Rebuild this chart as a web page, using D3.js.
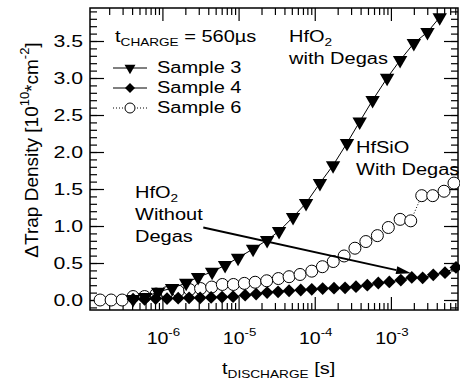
<!DOCTYPE html>
<html>
<head>
<meta charset="utf-8">
<script src="https://cdn.jsdelivr.net/npm/d3@7"></script>
<style>
  html, body { margin: 0; padding: 0; background: #fff; }
  svg { display: block; font-family: "Liberation Sans", Arial, Helvetica, sans-serif; }
</style>
</head>
<body>
<div id="chart"></div>
<script>
// values (t in seconds, density in 1e10 cm^-2)
const sample3Time = [4.12e-7, 5.93e-7, 8.79e-7, 1.34e-6, 2.05e-6, 2.94e-6, 4.49e-6, 6.65e-6,
  9.84e-6, 1.55e-5, 2.37e-5, 3.40e-5, 5.19e-5, 7.69e-5, 1.17e-4, 1.74e-4, 2.65e-4, 3.89e-4,
  5.75e-4, 8.91e-4, 1.32e-3, 2.00e-3, 3.02e-3, 4.37e-3];
const sample3Density = [0.01, 0.04, 0.11, 0.16, 0.23, 0.31, 0.38, 0.47, 0.57, 0.69, 0.81, 0.93,
  1.12, 1.31, 1.58, 1.82, 2.12, 2.41, 2.70, 3.00, 3.24, 3.47, 3.62, 3.82];

const sample4Time = [4.12e-7, 5.83e-7, 8.15e-7, 1.15e-6, 1.61e-6, 2.24e-6, 3.13e-6, 4.36e-6,
  6.07e-6, 8.47e-6, 1.22e-5, 1.70e-5, 2.37e-5, 3.30e-5, 4.60e-5, 6.55e-5, 9.14e-5, 1.27e-4,
  1.79e-4, 2.50e-4, 3.48e-4, 4.90e-4, 6.83e-4, 9.53e-4, 1.35e-3, 1.88e-3, 2.61e-3, 3.60e-3,
  5.13e-3, 7.15e-3];
const sample4Density = [0.01, 0.01, 0.02, 0.02, 0.025, 0.03, 0.03, 0.035, 0.04, 0.045, 0.065,
  0.08, 0.10, 0.11, 0.125, 0.135, 0.145, 0.155, 0.16, 0.165, 0.18, 0.20, 0.23, 0.245, 0.27,
  0.305, 0.30, 0.34, 0.37, 0.44];

const sample6Time = [1.52e-7, 2.12e-7, 2.96e-7, 4.12e-7, 5.83e-7, 8.26e-7, 1.15e-6, 1.61e-6,
  2.28e-6, 3.17e-6, 4.43e-6, 6.12e-6, 8.55e-6, 1.19e-5, 1.65e-5, 2.34e-5, 3.33e-5, 4.60e-5,
  6.41e-5, 9.14e-5, 1.26e-4, 1.75e-4, 2.43e-4, 3.37e-4, 4.69e-4, 6.64e-4, 9.25e-4, 1.32e-3,
  1.82e-3, 2.54e-3, 3.54e-3, 4.98e-3, 6.73e-3];
const sample6Density = [0, 0, 0, 0.047, 0.047, 0.08, 0.10, 0.12, 0.14, 0.155, 0.175, 0.21, 0.21,
  0.225, 0.24, 0.26, 0.29, 0.315, 0.345, 0.39, 0.45, 0.52, 0.595, 0.70, 0.79, 0.87, 0.98, 1.09,
  1.07, 1.41, 1.41, 1.47, 1.58];

const xDomain = [1.12e-7, 7.6e-3];
const yDomain = [-0.135, 3.946];
const xMajorTicks = [1e-6, 1e-5, 1e-4, 1e-3];
const xTickExponents = ["-6", "-5", "-4", "-3"];
const yMajorTicks = [0, 0.5, 1, 1.5, 2, 2.5, 3, 3.5];
const legendLabels = ["Sample 3", "Sample 4", "Sample 6"];

// arrow "HfO2 without degas" -> Sample 4 curve, in data coords
const arrowFrom = [3.44e-6, 0.98];
const arrowTo = [1.84e-3, 0.36];

const W = 460, H = 380;
const FONT = 16;
const SX = 1.25; // the reference text is stretched horizontally

const x = d3.scaleLog().domain(xDomain).range([90, 458]);
const y = d3.scaleLinear().domain(yDomain).range([310, 8]);

const svg = d3.select("#chart").append("svg")
  .attr("width", W).attr("height", H)
  .attr("viewBox", [0, 0, W, H]);

// text with sub/superscripts, stretched in x
function richText(parent, px, py, parts, anchor, opts) {
  const o = Object.assign({ size: FONT, rotate: false, stretch: SX }, opts);
  const tr = o.rotate
    ? `translate(${px},${py}) rotate(-90) scale(1,${o.stretch})`
    : `translate(${px},${py}) scale(${o.stretch},1)`;
  const t = parent.append("g").attr("transform", tr)
    .append("text")
    .attr("text-anchor", anchor || "start")
    .attr("font-size", o.size)
    .attr("fill", "#000");
  let off = 0;
  parts.forEach(([s, kind]) => {
    let target = 0, fs = o.size;
    if (kind === "sub") { target = o.size * 0.25; fs = o.size * 0.68; }
    if (kind === "sup") { target = -o.size * 0.45; fs = o.size * 0.68; }
    t.append("tspan").attr("font-size", fs).attr("dy", target - off).text(s);
    off = target;
  });
  return t;
}

// ---- ticks (inward, on all four sides)
const minorX = [];
for (let e = -7; e <= -3; e++) {
  for (let m = 2; m <= 9; m++) {
    const v = m * Math.pow(10, e);
    if (v > xDomain[0] && v < xDomain[1]) minorX.push(v);
  }
}
const minorY = d3.range(-1, 40).map((i) => i / 10).filter((v) => v > yDomain[0] && v < yDomain[1]);

function addAxis(axis, tx, ty) {
  const g = svg.append("g").attr("transform", `translate(${tx},${ty})`).call(axis);
  g.select(".domain").remove();
  g.selectAll("text").remove();
  g.selectAll("line").attr("stroke", "#000").attr("stroke-width", 1.2);
}
addAxis(d3.axisBottom(x).tickValues(xMajorTicks).tickSize(-13).tickFormat(""), 0, 310);
addAxis(d3.axisBottom(x).tickValues(minorX).tickSize(-7).tickFormat(""), 0, 310);
addAxis(d3.axisTop(x).tickValues(xMajorTicks).tickSize(-13).tickFormat(""), 0, 8);
addAxis(d3.axisTop(x).tickValues(minorX).tickSize(-7).tickFormat(""), 0, 8);
addAxis(d3.axisLeft(y).tickValues(yMajorTicks).tickSize(-14).tickFormat(""), 90, 0);
addAxis(d3.axisLeft(y).tickValues(minorY).tickSize(-7).tickFormat(""), 90, 0);
addAxis(d3.axisRight(y).tickValues(yMajorTicks).tickSize(-14).tickFormat(""), 458, 0);
addAxis(d3.axisRight(y).tickValues(minorY).tickSize(-7).tickFormat(""), 458, 0);

svg.append("rect")
  .attr("x", 90).attr("y", 8).attr("width", 368).attr("height", 302)
  .attr("fill", "none").attr("stroke", "#000").attr("stroke-width", 1.5);

// tick labels
yMajorTicks.forEach((v) => richText(svg, 83, y(v) + 6, [[d3.format(".1f")(v), ""]], "end", { size: 17 }));
xMajorTicks.forEach((v, i) => richText(svg, x(v) + 1, 344, [["10", ""], [xTickExponents[i], "sup"]], "middle", { size: 17, stretch: 1.15 }));

// axis titles
richText(svg, 222, 374, [["t", ""], ["DISCHARGE", "sub"], [" [s]", ""]], "start", { size: 17, stretch: 1.18 });
richText(svg, 38, 150, [["\u0394Trap Density [10", ""], ["10", "sup"], ["*cm", ""], ["-2", "sup"], ["]", ""]], "middle",
  { size: 19, rotate: true, stretch: 1.0 });

// ---- series
const line = d3.line().x((d) => x(d[0])).y((d) => y(d[1]));
const zip = (a, b) => a.map((t, i) => [t, b[i]]);
const s3 = zip(sample3Time, sample3Density);
const s4 = zip(sample4Time, sample4Density);
const s6 = zip(sample6Time, sample6Density);

const triDown = d3.symbol().type(d3.symbolTriangle);
const square = d3.symbol().type(d3.symbolSquare);

// sample 6: open circles, dotted line
svg.append("path").datum(s6).attr("d", line)
  .attr("fill", "none").attr("stroke", "#000").attr("stroke-width", 1)
  .attr("stroke-dasharray", "1,2");
svg.append("g").selectAll("circle").data(s6).join("circle")
  .attr("cx", (d) => x(d[0])).attr("cy", (d) => y(d[1])).attr("r", 6)
  .attr("fill", "#fff").attr("stroke", "#000").attr("stroke-width", 1);

// sample 4: diamonds, solid line
svg.append("path").datum(s4).attr("d", line)
  .attr("fill", "none").attr("stroke", "#000").attr("stroke-width", 1);
svg.append("g").selectAll("path").data(s4).join("path")
  .attr("d", square.size(82)())
  .attr("transform", (d) => `translate(${x(d[0])},${y(d[1])}) rotate(45)`)
  .attr("fill", "#000");

// sample 3: down triangles, solid line
svg.append("path").datum(s3).attr("d", line)
  .attr("fill", "none").attr("stroke", "#000").attr("stroke-width", 1);
svg.append("g").selectAll("path").data(s3).join("path")
  .attr("d", triDown.size(90)())
  .attr("transform", (d) => `translate(${x(d[0])},${y(d[1])}) rotate(180)`)
  .attr("fill", "#000");

// ---- legend
richText(svg, 115, 42, [["t", ""], ["CHARGE", "sub"], [" = 560\u00b5s", ""]], "start");
const legY = [68, 88, 108];
legY.forEach((ly, i) => {
  svg.append("line").attr("x1", 113).attr("x2", 147).attr("y1", ly).attr("y2", ly)
    .attr("stroke", "#000").attr("stroke-width", 1)
    .attr("stroke-dasharray", i === 2 ? "1,2" : null);
  if (i === 0) {
    svg.append("path").attr("d", triDown.size(52)())
      .attr("transform", `translate(130,${ly}) rotate(180)`).attr("fill", "#000");
  } else if (i === 1) {
    svg.append("path").attr("d", square.size(50)())
      .attr("transform", `translate(130,${ly}) rotate(45)`).attr("fill", "#000");
  } else {
    svg.append("circle").attr("cx", 130).attr("cy", ly).attr("r", 5)
      .attr("fill", "#fff").attr("stroke", "#000");
  }
  richText(svg, 157, ly + 5, [[legendLabels[i], ""]], "start");
});

// ---- annotations
richText(svg, 289, 42, [["HfO", ""], ["2", "sub"]], "start");
richText(svg, 289, 64, [["with Degas", ""]], "start");
richText(svg, 356, 153, [["HfSiO", ""]], "start");
richText(svg, 356, 175, [["With Degas", ""]], "start");
richText(svg, 135, 198, [["HfO", ""], ["2", "sub"]], "start");
richText(svg, 135, 220, [["Without", ""]], "start");
richText(svg, 135, 242, [["Degas", ""]], "start");

// arrow
const ax0 = x(arrowFrom[0]), ay0 = y(arrowFrom[1]);
const ax1 = x(arrowTo[0]), ay1 = y(arrowTo[1]);
const ang = Math.atan2(ay1 - ay0, ax1 - ax0);
const headLen = 15, headW = 4;
const bx = ax1 - headLen * Math.cos(ang), by = ay1 - headLen * Math.sin(ang);
svg.append("line").attr("x1", ax0).attr("y1", ay0).attr("x2", bx).attr("y2", by)
  .attr("stroke", "#000").attr("stroke-width", 2);
svg.append("path")
  .attr("d", `M${ax1},${ay1}L${bx + headW * Math.sin(ang)},${by - headW * Math.cos(ang)}` +
    `L${bx - headW * Math.sin(ang)},${by + headW * Math.cos(ang)}Z`)
  .attr("fill", "#000");
</script>
</body>
</html>
